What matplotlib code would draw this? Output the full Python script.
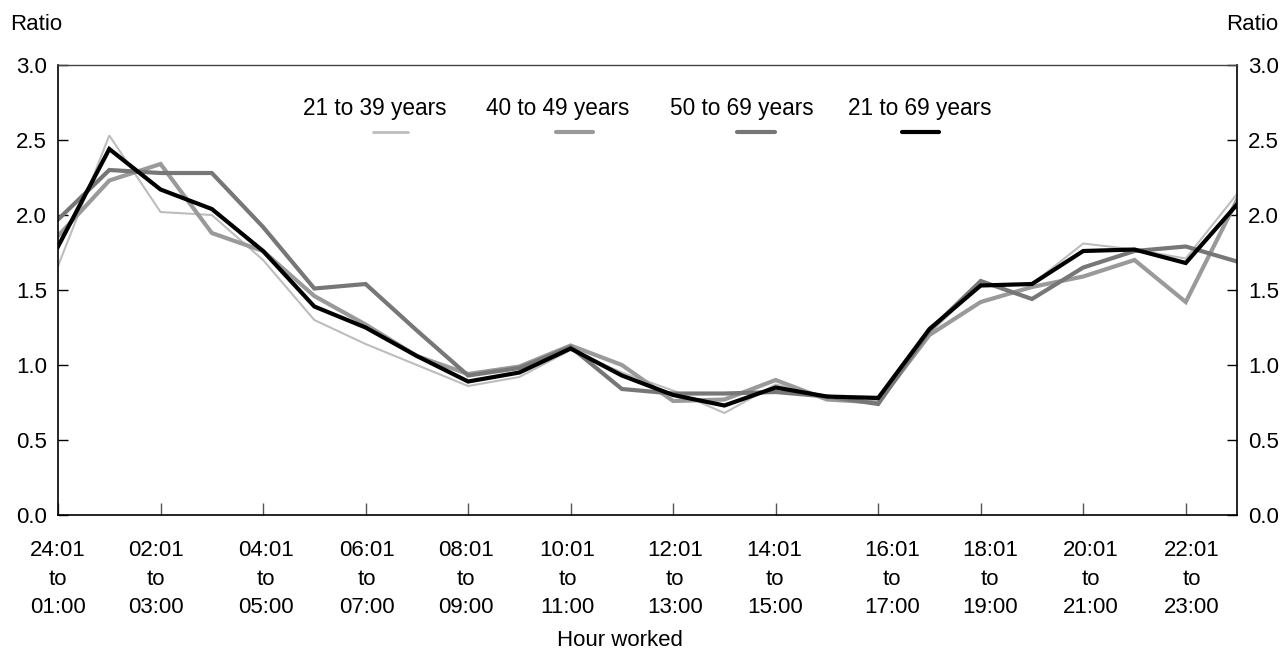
import numpy as np
import matplotlib.pyplot as plt
import matplotlib.transforms as mtransforms

plt.rcParams['font.family'] = ['Liberation Sans', 'DejaVu Sans']

# Hourly ratios by age group (24 one-hour slots, starting 24:01 to 01:00)
ages_21_39 = [1.66, 2.53, 2.02, 2.00, 1.70, 1.30, 1.14, 1.00, 0.86, 0.92, 1.10, 0.95,
              0.83, 0.68, 0.87, 0.79, 0.79, 1.21, 1.54, 1.54, 1.81, 1.77, 1.71, 2.14]
ages_40_49 = [1.86, 2.23, 2.34, 1.88, 1.76, 1.46, 1.27, 1.06, 0.94, 0.99, 1.13, 1.00,
              0.76, 0.77, 0.90, 0.77, 0.75, 1.20, 1.42, 1.52, 1.59, 1.70, 1.42, 2.10]
ages_50_69 = [1.97, 2.30, 2.28, 2.28, 1.92, 1.51, 1.54, 1.23, 0.93, 0.98, 1.12, 0.84,
              0.81, 0.81, 0.82, 0.79, 0.74, 1.23, 1.56, 1.44, 1.65, 1.76, 1.79, 1.69]
ages_21_69 = [1.79, 2.44, 2.17, 2.04, 1.76, 1.39, 1.25, 1.06, 0.89, 0.95, 1.11, 0.93,
              0.80, 0.73, 0.85, 0.79, 0.78, 1.24, 1.53, 1.54, 1.76, 1.77, 1.68, 2.07]

tick_labels = ["24:01\nto\n01:00", "02:01\nto\n03:00", "04:01\nto\n05:00",
               "06:01\nto\n07:00", "08:01\nto\n09:00", "10:01\nto\n11:00",
               "12:01\nto\n13:00", "14:01\nto\n15:00", "16:01\nto\n17:00",
               "18:01\nto\n19:00", "20:01\nto\n21:00", "22:01\nto\n23:00"]

series = [
    ("21 to 39 years", ages_21_39, "#bdbdbd", 1.5),
    ("40 to 49 years", ages_40_49, "#9a9a9a", 3.0),
    ("50 to 69 years", ages_50_69, "#777777", 3.0),
    ("21 to 69 years", ages_21_69, "#000000", 3.0),
]

hours = np.arange(len(ages_21_39))

fig = plt.figure(figsize=(12.84, 6.52), dpi=100)
ax = fig.add_axes([0.0452, 0.2101, 0.9182, 0.6902])

for name, vals, col, lw in series:
    ax.plot(hours, vals, color=col, lw=lw, solid_joinstyle='miter')

ax.set_xlim(0, 23)
ax.set_ylim(0, 3.0)
ax.set_yticks(np.arange(0, 3.01, 0.5))
ax.set_yticklabels([f"{v:.1f}" for v in np.arange(0, 3.01, 0.5)])
ax.set_xticks(hours[::2])
ax.set_xticklabels(tick_labels, linespacing=1.48)

ax.tick_params(axis='y', direction='in', length=7, width=1, labelsize=16, pad=8,
               left=True, right=True, labelleft=True, labelright=True)
ax.tick_params(axis='x', direction='in', length=9, width=1, color='#555555',
               labelsize=16, pad=18)

# nudge some of the hour labels sideways (pixels)
label_shift = [0, -5, 3, 1, -2, -3, 2, -1, 14, 9, 8, 6]
for lab, dx in zip(ax.get_xticklabels(), label_shift):
    lab.set_transform(lab.get_transform() +
                      mtransforms.ScaledTranslation(dx / 100, 0, fig.dpi_scale_trans))

ax.spines['top'].set_color('#444444')
ax.spines['top'].set_linewidth(1.0)
for side in ['left', 'right', 'bottom']:
    ax.spines[side].set_linewidth(1.2)

# legend row: label text above a short line sample
legend_text_x = [375, 558, 742, 920]
legend_line_x = [(373, 408), (556, 593), (737, 775), (902, 939)]
for (name, vals, col, lw), tx, (x0, x1) in zip(series, legend_text_x, legend_line_x):
    fig.text(tx / 1284, 1 - 109 / 652, name, ha='center', va='center', fontsize=16.3)
    fig.add_artist(plt.Line2D([x0 / 1284, x1 / 1284], [1 - 132 / 652] * 2,
                              color=col, lw=max(lw, 2.0), solid_capstyle='round'))

fig.text(10 / 1284, 1 - 24 / 652, "Ratio", ha='left', va='center', fontsize=16)
fig.text(1278 / 1284, 1 - 24 / 652, "Ratio", ha='right', va='center', fontsize=16)
fig.text(620 / 1284, 1 - 640 / 652, "Hour worked", ha='center', va='center', fontsize=16)

fig.savefig("out.png", dpi=100)
